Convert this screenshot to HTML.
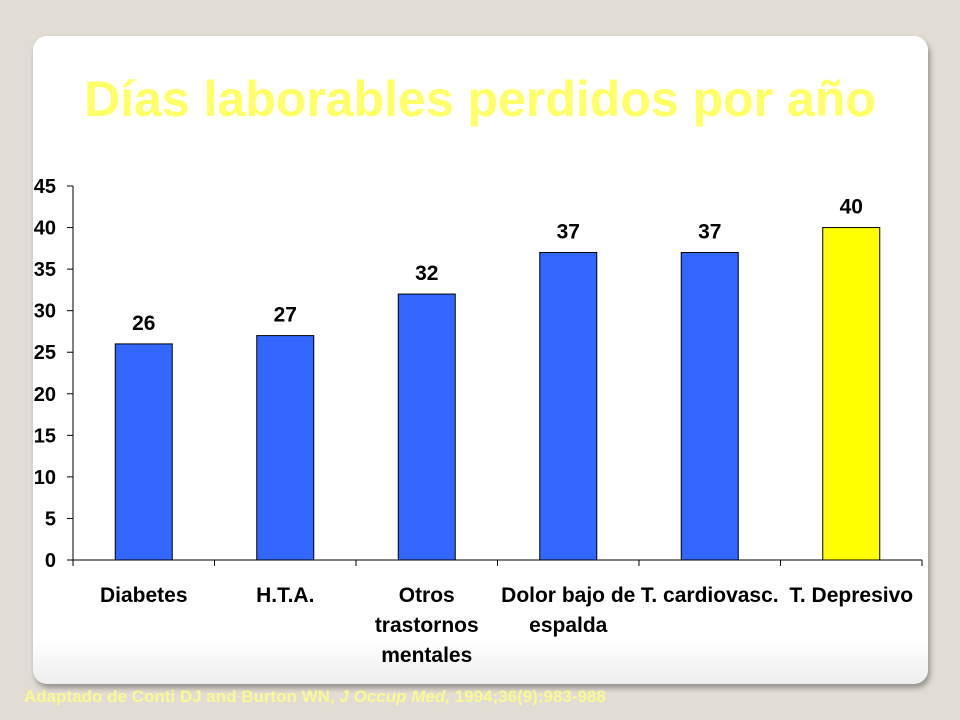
<!DOCTYPE html>
<html><head><meta charset="utf-8"><style>
html,body{margin:0;padding:0;width:960px;height:720px;overflow:hidden;background:#e2ddd4;}
#card{position:absolute;left:33px;top:36px;width:895px;height:648px;background:linear-gradient(#fff 0,#fff 93%,#eeeeee 100%);border-radius:14px;box-shadow:2px 4px 6px rgba(0,0,0,0.35);}
#title{position:absolute;left:0;top:70px;width:960px;text-align:center;font:bold 50px "Liberation Sans",sans-serif;color:#ffff66;white-space:nowrap;}
#src{position:absolute;left:24px;top:687px;font:bold 17px "Liberation Sans Narrow","Liberation Sans",sans-serif;color:#ffff88;opacity:0.85;white-space:nowrap;}
svg{position:absolute;left:0;top:0;}
text{font-family:"Liberation Sans Narrow","Liberation Sans",sans-serif;font-weight:bold;fill:#000;}
</style></head><body>
<div id="card"></div>
<div id="title">Días laborables perdidos por año</div>
<svg id="chart" width="960" height="720"></svg>
<div id="src">Adaptado de Conti DJ and Burton WN, <i>J Occup Med,</i> 1994;36(9):983-988</div>
<script>
const categories=[["Diabetes"],["H.T.A."],["Otros","trastornos","mentales"],["Dolor bajo de","espalda"],["T. cardiovasc."],["T. Depresivo"]];
const values=[26,27,32,37,37,40];
const colors=["#3366ff","#3366ff","#3366ff","#3366ff","#3366ff","#ffff00"];
const yTicks=[0,5,10,15,20,25,30,35,40,45];
const X0=73,X1=922,Y0=560,Y1=186,YMAX=45;
const NS="http://www.w3.org/2000/svg";
const svg=document.getElementById('chart');
const y=v=>Y0-(v/YMAX)*(Y0-Y1);
const band=(X1-X0)/categories.length;
const xc=i=>X0+band*(i+0.5);
function mk(t,a){const e=document.createElementNS(NS,t);for(const k in a)e.setAttribute(k,a[k]);svg.appendChild(e);return e;}
let ax=mk('line',{x1:X0,y1:Y1,x2:X0,y2:Y0+6,stroke:'#000','stroke-width':1});


let bx=mk('line',{x1:X0,y1:Y0,x2:X1,y2:Y0,stroke:'#000','stroke-width':1});


yTicks.forEach(v=>{
 mk('line',{x1:X0-6,y1:y(v),x2:X0,y2:y(v),stroke:'#000'});
 const t=mk('text',{x:X0-17,y:y(v)+7,'text-anchor':'end','font-size':20});
 t.textContent=v;
 
 
});
for(let i=0;i<=categories.length;i++){mk('line',{x1:X0+band*i,y1:Y0,x2:X0+band*i,y2:Y0+6,stroke:'#000'});}
values.forEach((v,i)=>{
 const w=57;
 const r=mk('rect',{x:xc(i)-w/2,y:y(v),width:w,height:Y0-y(v),fill:colors[i],stroke:'#000','stroke-width':1});
 
 
 const t=mk('text',{x:xc(i),y:y(v)-14,'text-anchor':'middle','font-size':21});
 t.textContent=v;
 
 
 categories[i].forEach((ln,j)=>{
  const c=mk('text',{x:xc(i),y:602+30*j,'text-anchor':'middle','font-size':21});
  c.textContent=ln;
  
  
 });
});
</script>
</body></html>
